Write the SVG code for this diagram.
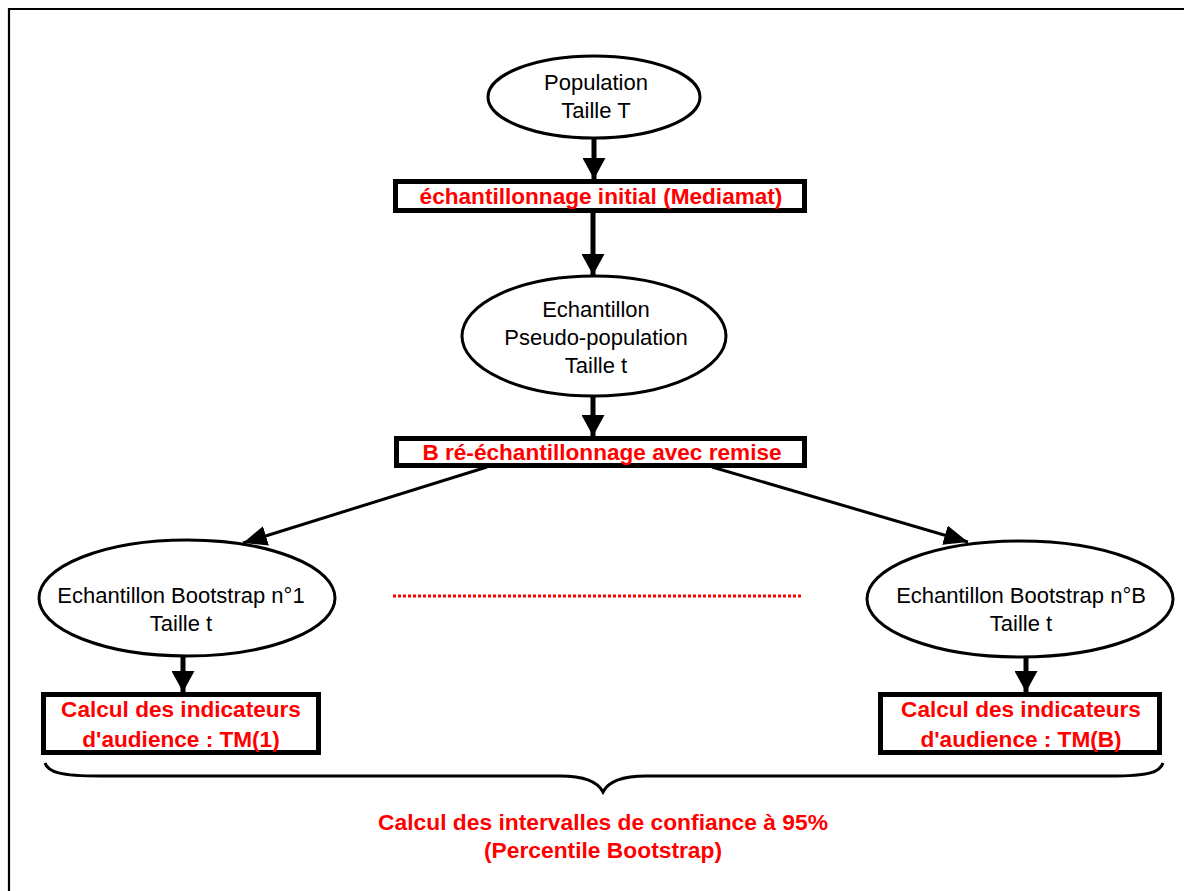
<svg xmlns="http://www.w3.org/2000/svg" width="1184" height="891" viewBox="0 0 1184 891">
<style>
.bg{fill:#fff}
.ell{fill:#fff;stroke:#000;stroke-width:3}
.box{fill:#fff;stroke:#000;stroke-width:5}
.t{font-family:"Liberation Sans",Arial,sans-serif;font-size:22px;fill:#000;text-anchor:middle}
.r{font-family:"Liberation Sans",Arial,sans-serif;font-size:22.6px;font-weight:bold;fill:#ff0000;text-anchor:middle}
.v{stroke:#000;stroke-width:5;fill:none}
.d{stroke:#000;stroke-width:3;fill:none}
</style>
<defs>
<marker id="hv" markerUnits="userSpaceOnUse" markerWidth="21" markerHeight="23" refX="21" refY="11.5" orient="auto"><path d="M0,0 L21,11.5 L0,23 z" fill="#000"/></marker>
<marker id="hd" markerUnits="userSpaceOnUse" markerWidth="24" markerHeight="20" refX="24" refY="10" orient="auto"><path d="M0,0 L24,10 L0,20 z" fill="#000"/></marker>
</defs>
<rect class="bg" x="0" y="0" width="1184" height="891"/>
<g id="frame"><path d="M8,9 H1184 M9,8 V891" stroke="#000" stroke-width="2.2" fill="none"/></g>
<g id="connectors">
<line class="v" x1="594" y1="139" x2="594" y2="179" marker-end="url(#hv)"/>
<line class="v" x1="593" y1="213" x2="593" y2="275" marker-end="url(#hv)"/>
<line class="v" x1="593" y1="395" x2="593" y2="436" marker-end="url(#hv)"/>
<line class="d" x1="487" y1="467" x2="243" y2="543" marker-end="url(#hd)"/>
<line class="d" x1="712" y1="467" x2="968" y2="542" marker-end="url(#hd)"/>
<line class="v" x1="183" y1="657" x2="183" y2="692" marker-end="url(#hv)"/>
<line class="v" x1="1026" y1="657" x2="1026" y2="692" marker-end="url(#hv)"/>
<line x1="393" y1="596" x2="803" y2="596" stroke="#ff0000" stroke-width="3" stroke-dasharray="3,2"/>
</g>
<g id="population"><ellipse class="ell" cx="594" cy="97" rx="106" ry="41"/><text class="t" x="596" y="90">Population</text><text class="t" x="596" y="118">Taille T</text></g>
<g id="echantillonnage"><rect class="box" x="395.5" y="181.5" width="409" height="29"/><text class="r" x="601" y="204">échantillonnage initial (Mediamat)</text></g>
<g id="echantillon"><ellipse class="ell" cx="594" cy="336" rx="132" ry="60"/><text class="t" x="596" y="317">Echantillon</text><text class="t" x="596" y="345">Pseudo-population</text><text class="t" x="596" y="373">Taille t</text></g>
<g id="reechantillonnage"><rect class="box" x="396.5" y="438.5" width="408" height="27"/><text class="r" x="602" y="460">B ré-échantillonnage avec remise</text></g>
<g id="bootstrap1"><ellipse class="ell" cx="187" cy="598" rx="148" ry="58"/><text class="t" x="181" y="603">Echantillon Bootstrap n°1</text><text class="t" x="181" y="631">Taille t</text></g>
<g id="bootstrapB"><ellipse class="ell" cx="1020" cy="599" rx="153" ry="58"/><text class="t" x="1021" y="603">Echantillon Bootstrap n°B</text><text class="t" x="1021" y="631">Taille t</text></g>
<g id="calcul1"><rect class="box" x="43.5" y="694.5" width="275" height="58"/><text class="r" x="181" y="717">Calcul des indicateurs</text><text class="r" x="181" y="747">d'audience : TM(1)</text></g>
<g id="calculB"><rect class="box" x="880.5" y="694.5" width="279" height="58"/><text class="r" x="1021" y="717">Calcul des indicateurs</text><text class="r" x="1021" y="747">d'audience : TM(B)</text></g>
<g id="brace"><path d="M45,763 C48,772 60,776 100,776 L560,776 C585,776 598,782 603,792 C608,782 621,776 646,776 L1110,776 C1150,776 1160,772 1163,763" stroke="#000" stroke-width="3" fill="none"/></g>
<g id="intervalles"><text class="r" x="603" y="830" style="font-size:22.8px">Calcul des intervalles de confiance à 95%</text><text class="r" x="603" y="858" style="font-size:22.8px">(Percentile Bootstrap)</text></g>
</svg>
